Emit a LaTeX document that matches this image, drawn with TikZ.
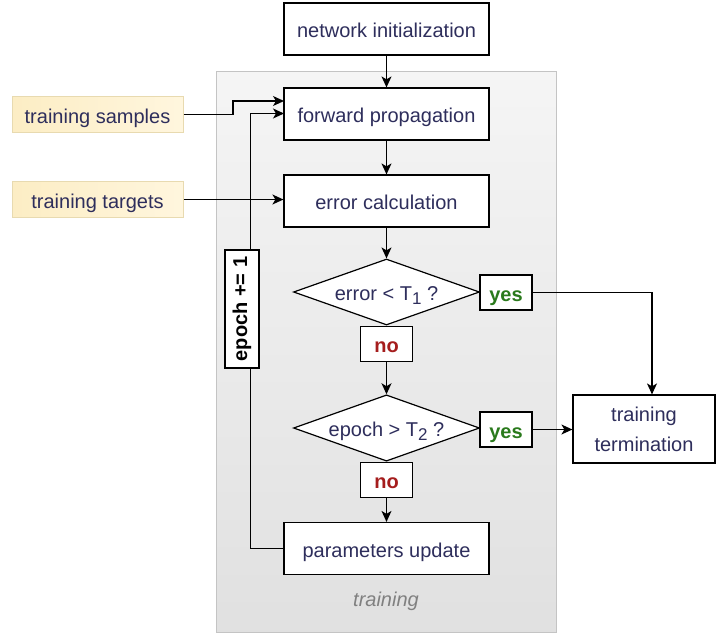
\documentclass[tikz,border=0pt]{standalone}
\usepackage{fontspec}
\setmainfont{Liberation Sans}
\usetikzlibrary{arrows.meta,shapes.geometric}
\definecolor{txt}{HTML}{2E2E5C}
\definecolor{yescol}{HTML}{2A7A1C}
\definecolor{nocol}{HTML}{A51D1D}
\definecolor{frame}{HTML}{C4C4C4}
\definecolor{ylfill}{HTML}{FCEDC4}
\definecolor{ylfill2}{HTML}{FFF6DE}
\definecolor{ylborder}{HTML}{E8DAB0}
\begin{document}
\begin{tikzpicture}[x=1pt,y=-1pt,
  every node/.style={font=\fontsize{20}{24}\selectfont},
  oneline/.style={text height=21pt,text depth=4pt},
  proc/.style={draw=black,line width=1.2pt,fill=white,text=txt,minimum width=205pt,minimum height=52pt,inner sep=0pt,align=center},
  dec/.style={draw=black,line width=1.2pt,fill=white,text=txt,shape=diamond,aspect=2.8,minimum width=186pt,minimum height=66pt,inner sep=0pt,oneline},
  inp/.style={draw=ylborder,line width=1pt,left color=ylfill,right color=ylfill2,text=txt,minimum width=171pt,minimum height=36pt,inner sep=0pt,oneline},
  lbl/.style={draw=black,line width=1.2pt,fill=white,font=\fontsize{20}{24}\selectfont\bfseries,minimum width=52pt,minimum height=35pt,inner sep=0pt,oneline},
  conn/.style={line width=1.3pt,draw=black},
  arr/.style={conn,-{Stealth[length=11pt,width=10pt,inset=3pt]}}]
\useasboundingbox (0,0) rectangle (716,633);
% container
\node[draw=frame,line width=1pt,top color=white!96!black,bottom color=white!88!black,minimum width=340pt,minimum height=561pt,inner sep=0pt] (cont) at (386,351.5) {};
\node[text=black!50,font=\fontsize{20}{24}\selectfont\itshape,oneline] (trlbl) at (386,598) {training};
% nodes
\node[proc,oneline] (ni) at (386.5,29) {network initialization};
\node[proc,oneline] (fp) at (386.5,114) {forward propagation};
\node[proc,oneline] (ec) at (386.5,201) {error calculation};
\node[dec] (d1) at (386.5,292) {error < T\raisebox{-0.35ex}{\fontsize{17}{17}\selectfont 1} ?};
\node[dec] (d2) at (386.5,428) {epoch > T\raisebox{-0.35ex}{\fontsize{17}{17}\selectfont 2} ?};
\node[proc,oneline] (pu) at (386.5,548.5) {parameters update};
\node[proc,minimum width=142pt,minimum height=68pt] (tt) at (644,429) {training\\[6pt]termination};
\node[inp] (ts) at (97.5,114.5) {training samples};
\node[inp] (tg) at (97.5,199.5) {training targets};
\node[lbl,text=yescol] (y1) at (506,292.5) {yes};
\node[lbl,text=nocol] (n1) at (386.5,344) {no};
\node[lbl,text=yescol] (y2) at (506,429.5) {yes};
\node[lbl,text=nocol] (n2) at (386.5,480) {no};
% connectors
\draw[arr] (ni.south) -- (fp.north);
\draw[arr] (fp.south) -- (ec.north);
\draw[arr] (ec.south) -- (d1.north);
\draw[arr] (n1.south) -- (d2.north);
\draw[arr] (n2.south) -- (pu.north);
\coordinate (s1) at (233,114.5);
\coordinate (s2) at (233,101);
\coordinate (s3) at (284,101);
\draw[arr] (ts.east) -- (s1) -- (s2) -- (s3);
\draw[arr] (tg.east) -- (tg.east -| ec.west);
\coordinate (f1) at (250.5,548.5);
\coordinate (f2) at (250.5,113.5);
\coordinate (f3) at (284,113.5);
\draw[arr] (pu.west) -- (f1) -- (f2) -- (f3);
\coordinate (c1) at (652,292.5);
\draw[arr] (y1.east) -- (c1) -- (c1 |- tt.north);
\draw[arr] (y2.east) -- (y2.east -| tt.west);
\node[draw=black,line width=1.2pt,fill=white,rotate=90,font=\fontsize{20}{24}\selectfont\bfseries,minimum width=118pt,minimum height=34pt,inner sep=0pt] (ep) at (242,309) {epoch += 1};
\end{tikzpicture}
\end{document}
